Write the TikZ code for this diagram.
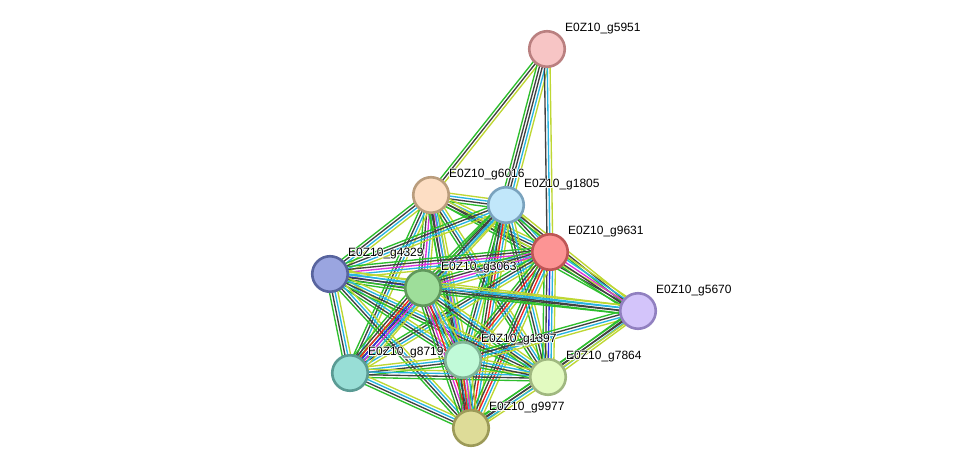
\documentclass[tikz,border=0pt]{standalone}
\usepackage{fontspec}
\setmainfont{Liberation Sans}
\usetikzlibrary{calc}
\definecolor{cg}{RGB}{45,190,45}
\definecolor{ck}{RGB}{65,65,65}
\definecolor{cc}{RGB}{40,180,225}
\definecolor{cy}{RGB}{190,215,50}
\definecolor{cm}{RGB}{220,50,220}
\definecolor{cb}{RGB}{45,45,230}
\definecolor{cr}{RGB}{240,35,35}
\newcommand\edg[3]{%
  \xdef\nn{0}%
  \foreach \c in {#3}{\xdef\nn{\the\numexpr\nn+1\relax}}%
  \foreach \c [count=\i] in {#3}{%
    \pgfmathsetmacro\off{(\i-(\nn+1)/2)*2.8}%
    \draw[draw=\c] ($(#1.center)!\off pt!90:(#2.center)$) -- ($(#2.center)!\off pt!-90:(#1.center)$);
  }}
\newcommand\halo[1]{\leavevmode
  \rlap{\color{white}\raisebox{0.8pt}{#1}}\rlap{\color{white}\raisebox{-0.8pt}{#1}}%
  \rlap{\color{white}\hspace{0.8pt}#1}\rlap{\color{white}\hspace{-0.8pt}#1}%
  \rlap{\color{white}\hspace{0.6pt}\raisebox{0.6pt}{#1}}\rlap{\color{white}\hspace{-0.6pt}\raisebox{-0.6pt}{#1}}%
  \rlap{\color{white}\hspace{0.6pt}\raisebox{-0.6pt}{#1}}\rlap{\color{white}\hspace{-0.6pt}\raisebox{0.6pt}{#1}}%
  #1}
\tikzset{
  nd/.style={circle,minimum size=35.5pt,inner sep=0pt,line width=2.6pt},
  lbl/.style={anchor=west,inner sep=0pt,font=\fontsize{12pt}{14pt}\selectfont,text=black},
}
\begin{document}
\begin{tikzpicture}[x=1pt,y=-1pt]
\useasboundingbox (0,0) rectangle (975,474);
\fill[white] (0,0) rectangle (975,474);
% node coordinates (centers)
\coordinate (A) at (547,49);
\coordinate (B) at (431,195);
\coordinate (C) at (506,205);
\coordinate (D) at (550,252);
\coordinate (E) at (330,274);
\coordinate (F) at (423,288);
\coordinate (G) at (638,311);
\coordinate (H) at (350,373);
\coordinate (I) at (463,360);
\coordinate (J) at (548,377);
\coordinate (K) at (471,428);
\begin{scope}[line width=1.35pt]
\edg{A}{B}{cg,ck,cy}
\edg{A}{C}{cg,ck,ck,cc,cy}
\edg{A}{D}{ck,cc,cy}
\edg{B}{C}{cg,ck,cc,cy}
\edg{B}{D}{cg,ck,cc,cy}
\edg{B}{E}{cg,ck,cc,cy}
\edg{B}{F}{cg,ck,cm,cc,cy}
\edg{B}{G}{cg,ck,cy}
\edg{B}{H}{cg,ck,cc,cy}
\edg{B}{I}{cg,ck,cm,cc,cy}
\edg{B}{J}{cg,ck,cc,cy}
\edg{B}{K}{cg,ck,cc,cy}
\edg{C}{D}{cg,ck,cc,cy}
\edg{C}{E}{cg,ck,cc,cy}
\edg{C}{F}{cg,ck,cc,cy}
\edg{C}{G}{cg,ck,cy}
\edg{C}{H}{cg,ck,cc,cy}
\edg{C}{I}{cg,ck,cc,cy}
\edg{C}{J}{cg,ck,cc,cy}
\edg{C}{K}{cg,ck,cr,cc,cy}
\edg{D}{E}{cg,ck,cm,cc,cy}
\edg{D}{F}{cg,ck,cm,cc,cy}
\edg{D}{G}{cg,ck,cm,cc,cy}
\edg{D}{H}{cg,ck,cc,cy}
\edg{D}{I}{cg,ck,cr,cc,cy}
\edg{D}{J}{cg,ck,cb,cc,cy}
\edg{D}{K}{cg,ck,cr,cc,cy}
\edg{E}{F}{cg,ck,cb,cc,cy}
\edg{E}{G}{cg,ck,cc,cy}
\edg{E}{H}{cg,ck,cc,cy}
\edg{E}{I}{cg,ck,cc,cy}
\edg{E}{J}{cg,ck,cc,cy}
\edg{E}{K}{cg,ck,cc,cy}
\edg{F}{G}{cg,ck,cc,cy}
\edg{F}{H}{cg,ck,cr,cb,cm,cc,cy}
\edg{F}{I}{cg,ck,cm,cc,cy}
\edg{F}{J}{cg,ck,cc,cy}
\edg{F}{K}{cg,ck,cm,cr,cc,cy}
\edg{G}{I}{cg,ck,cc,cy}
\edg{G}{J}{cg,ck,cc,cy}
\edg{G}{K}{cg,ck,cy}
\edg{H}{I}{cg,ck,cc,cy}
\edg{H}{J}{cg,ck,cc,cy}
\edg{H}{K}{cg,ck,cc,cy}
\edg{I}{J}{cg,ck,cc,cy}
\edg{I}{K}{cg,ck,cr,cm,cc,cy}
\edg{J}{K}{cg,ck,cc,cy}
\end{scope}
% nodes
\node[nd,fill={rgb,255:red,247;green,197;blue,197},draw={rgb,255:red,186;green,128;blue,128}] (nA) at (A) {};
\node[nd,fill={rgb,255:red,253;green,222;blue,196},draw={rgb,255:red,186;green,157;blue,125}] (nB) at (B) {};
\node[nd,fill={rgb,255:red,193;green,231;blue,250},draw={rgb,255:red,122;green,163;blue,190}] (nC) at (C) {};
\node[nd,fill={rgb,255:red,252;green,148;blue,148},draw={rgb,255:red,190;green,85;blue,85}] (nD) at (D) {};
\node[nd,fill={rgb,255:red,154;green,165;blue,224},draw={rgb,255:red,88;green,100;blue,158}] (nE) at (E) {};
\node[nd,fill={rgb,255:red,158;green,222;blue,154},draw={rgb,255:red,96;green,152;blue,92}] (nF) at (F) {};
\node[nd,fill={rgb,255:red,211;green,196;blue,250},draw={rgb,255:red,145;green,128;blue,192}] (nG) at (G) {};
\node[nd,fill={rgb,255:red,152;green,222;blue,214},draw={rgb,255:red,90;green,155;blue,148}] (nH) at (H) {};
\node[nd,fill={rgb,255:red,192;green,250;blue,216},draw={rgb,255:red,128;green,180;blue,150}] (nI) at (I) {};
\node[nd,fill={rgb,255:red,226;green,250;blue,192},draw={rgb,255:red,160;green,184;blue,128}] (nJ) at (J) {};
\node[nd,fill={rgb,255:red,222;green,220;blue,152},draw={rgb,255:red,156;green,154;blue,88}] (nK) at (K) {};
% labels
\node[lbl] (lA) at ($(A)+(18,-20)$) {\halo{E0Z10\_g5951}};
\node[lbl] (lB) at ($(B)+(18,-20)$) {\halo{E0Z10\_g6016}};
\node[lbl] (lC) at ($(C)+(18,-20)$) {\halo{E0Z10\_g1805}};
\node[lbl] (lD) at ($(D)+(18,-20)$) {\halo{E0Z10\_g9631}};
\node[lbl] (lE) at ($(E)+(18,-20)$) {\halo{E0Z10\_g4329}};
\node[lbl] (lF) at ($(F)+(18,-20)$) {\halo{E0Z10\_g3063}};
\node[lbl] (lG) at ($(G)+(18,-20)$) {\halo{E0Z10\_g5670}};
\node[lbl] (lH) at ($(H)+(18,-20)$) {\halo{E0Z10\_g8719}};
\node[lbl] (lI) at ($(I)+(18,-20)$) {\halo{E0Z10\_g1397}};
\node[lbl] (lJ) at ($(J)+(18,-20)$) {\halo{E0Z10\_g7864}};
\node[lbl] (lK) at ($(K)+(18,-20)$) {\halo{E0Z10\_g9977}};
\end{tikzpicture}
\end{document}
